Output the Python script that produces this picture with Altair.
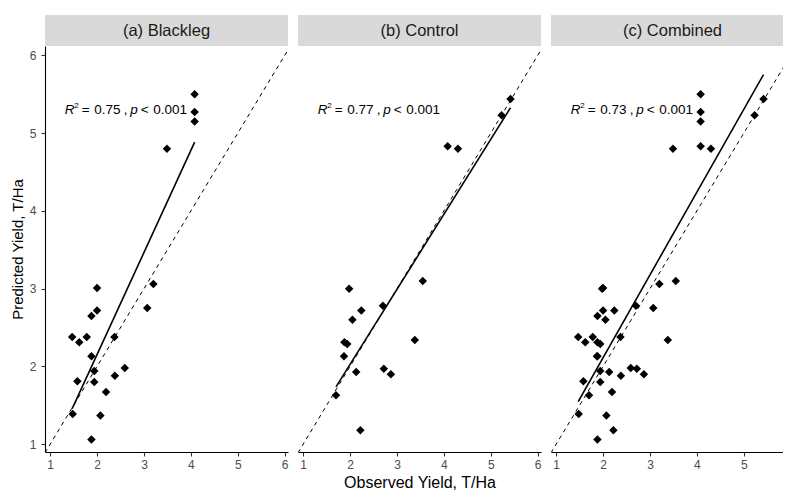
import altair as alt
import pandas as pd

FONT = "Liberation Sans, Arial, sans-serif"

panel_titles = ["(a) Blackleg", "(b) Control", "(c) Combined"]
r2_labels = ["0.75", "0.77", "0.73"]
p_label = "0.001"

blackleg_obs = [4.08, 4.08, 4.08, 3.49, 3.20, 3.07, 2.00, 2.00, 1.88, 1.47, 1.62, 1.78,
                2.37, 1.88, 1.94, 1.58, 1.94, 2.38, 2.59, 2.19, 1.48, 2.07, 1.88]
blackleg_pred = [5.50, 5.27, 5.15, 4.80, 3.06, 2.75, 3.01, 2.72, 2.65, 2.38, 2.31, 2.38,
                 2.38, 2.13, 1.94, 1.81, 1.80, 1.88, 1.98, 1.67, 1.39, 1.37, 1.06]

control_obs = [5.42, 5.23, 4.08, 4.30, 3.55, 1.98, 2.70, 2.24, 2.05, 1.88, 1.94, 3.38,
               1.87, 2.13, 2.72, 2.87, 1.70, 2.22]
control_pred = [5.44, 5.23, 4.83, 4.80, 3.10, 3.00, 2.78, 2.72, 2.60, 2.31, 2.29, 2.34,
                2.13, 1.93, 1.97, 1.90, 1.63, 1.18]

axis_ticks = [1, 2, 3, 4, 5, 6]
x_domain = [0.89, 6.07]
y_domain = [0.90, 6.12]
label_pos = [1.31, 5.24]

W, H = 243, 406
W_LAST = 232          # last panel is cut at the right edge of the page
STRIP_H = 31

df_a = pd.DataFrame({"obs": blackleg_obs, "pred": blackleg_pred})
df_b = pd.DataFrame({"obs": control_obs, "pred": control_pred})
df_c = pd.concat([df_a, df_b], ignore_index=True)
ref_df = pd.DataFrame({"obs": [x_domain[0], x_domain[1]], "pred": [x_domain[0], x_domain[1]]})

yscale = alt.Scale(domain=y_domain, nice=False, zero=False)


def make_panel(df, idx, show_y, x_title, width):
    x_hi = x_domain[0] + (x_domain[1] - x_domain[0]) * width / W
    xscale = alt.Scale(domain=[x_domain[0], x_hi], nice=False, zero=False)
    xaxis = alt.Axis(values=axis_ticks, format="d", title=x_title if x_title else None,
                     grid=False, labelFlush=False, tickSize=4, labelPadding=3,
                     titlePadding=4)
    if show_y:
        yaxis = alt.Axis(values=axis_ticks, format="d", title="Predicted Yield, T/Ha",
                         grid=False, labelFlush=False, tickSize=4, labelPadding=5,
                         titlePadding=4)
    else:
        yaxis = None
    x = alt.X("obs:Q", scale=xscale, axis=xaxis)
    y = alt.Y("pred:Q", scale=yscale, axis=yaxis)

    ref = alt.Chart(ref_df).mark_line(color="black", strokeWidth=1,
                                      strokeDash=[4, 4], clip=True).encode(x=x, y=y)
    pts = alt.Chart(df).mark_point(shape="diamond", filled=True, color="black",
                                   opacity=1, size=72).encode(x=x, y=y)
    reg = alt.Chart(df).transform_regression("obs", "pred").mark_line(
        color="black", strokeWidth=1.6, clip=True).encode(x=x, y=y)

    lab_df = pd.DataFrame({"obs": [label_pos[0]], "pred": [label_pos[1]]})
    pieces = [("R", 0, 13.5, "italic", 0), ("2", 9.5, 8, "normal", -6),
              ("=", 17, 13.5, "normal", 0), (r2_labels[idx], 29.5, 13.5, "normal", 0),
              (",", 59, 13.5, "normal", 0), ("p", 65.5, 13.5, "italic", 0),
              ("<", 76, 13.5, "normal", 0), (p_label, 88.5, 13.5, "normal", 0)]
    texts = []
    for txt, dx, fs, style, dy in pieces:
        texts.append(alt.Chart(lab_df).mark_text(
            text=txt, align="left", baseline="alphabetic", dx=dx, dy=dy,
            fontSize=fs, fontStyle=style, color="black", font=FONT
        ).encode(x=alt.X("obs:Q", scale=xscale), y=alt.Y("pred:Q", scale=yscale)))

    strip_df = pd.DataFrame({"title": [panel_titles[idx]]})
    strip = alt.Chart(strip_df).mark_rect(color="#D9D9D9").encode(
        x=alt.value(0), x2=alt.value(width), y=alt.value(-STRIP_H), y2=alt.value(0))
    strip_txt = alt.Chart(strip_df).mark_text(
        fontSize=16.5, color="#1A1A1A", baseline="middle", align="center", font=FONT
    ).encode(x=alt.value(W / 2), y=alt.value(-STRIP_H / 2), text="title:N")

    return alt.layer(strip, strip_txt, ref, reg, pts, *texts).properties(width=width, height=H)


pa = make_panel(df_a, 0, True, None, W)
pb = make_panel(df_b, 1, False, "Observed Yield, T/Ha", W)
pc = make_panel(df_c, 2, False, None, W_LAST)

chart = alt.hconcat(pa, pb, pc, spacing=9).properties(
    padding={"left": 2, "top": 7, "right": 0, "bottom": 0}
).configure_view(stroke=None).configure_axis(
    domainColor="black", domainWidth=1.1, tickColor="#333333", tickWidth=1.1,
    labelColor="#4D4D4D", labelFontSize=12, labelFont=FONT,
    titleFont=FONT, titleFontSize=16, titleFontWeight="normal", titleColor="black"
).configure_axisY(titleFontSize=15)

chart.save("out.html", embed_options={"renderer": "svg", "actions": False})
